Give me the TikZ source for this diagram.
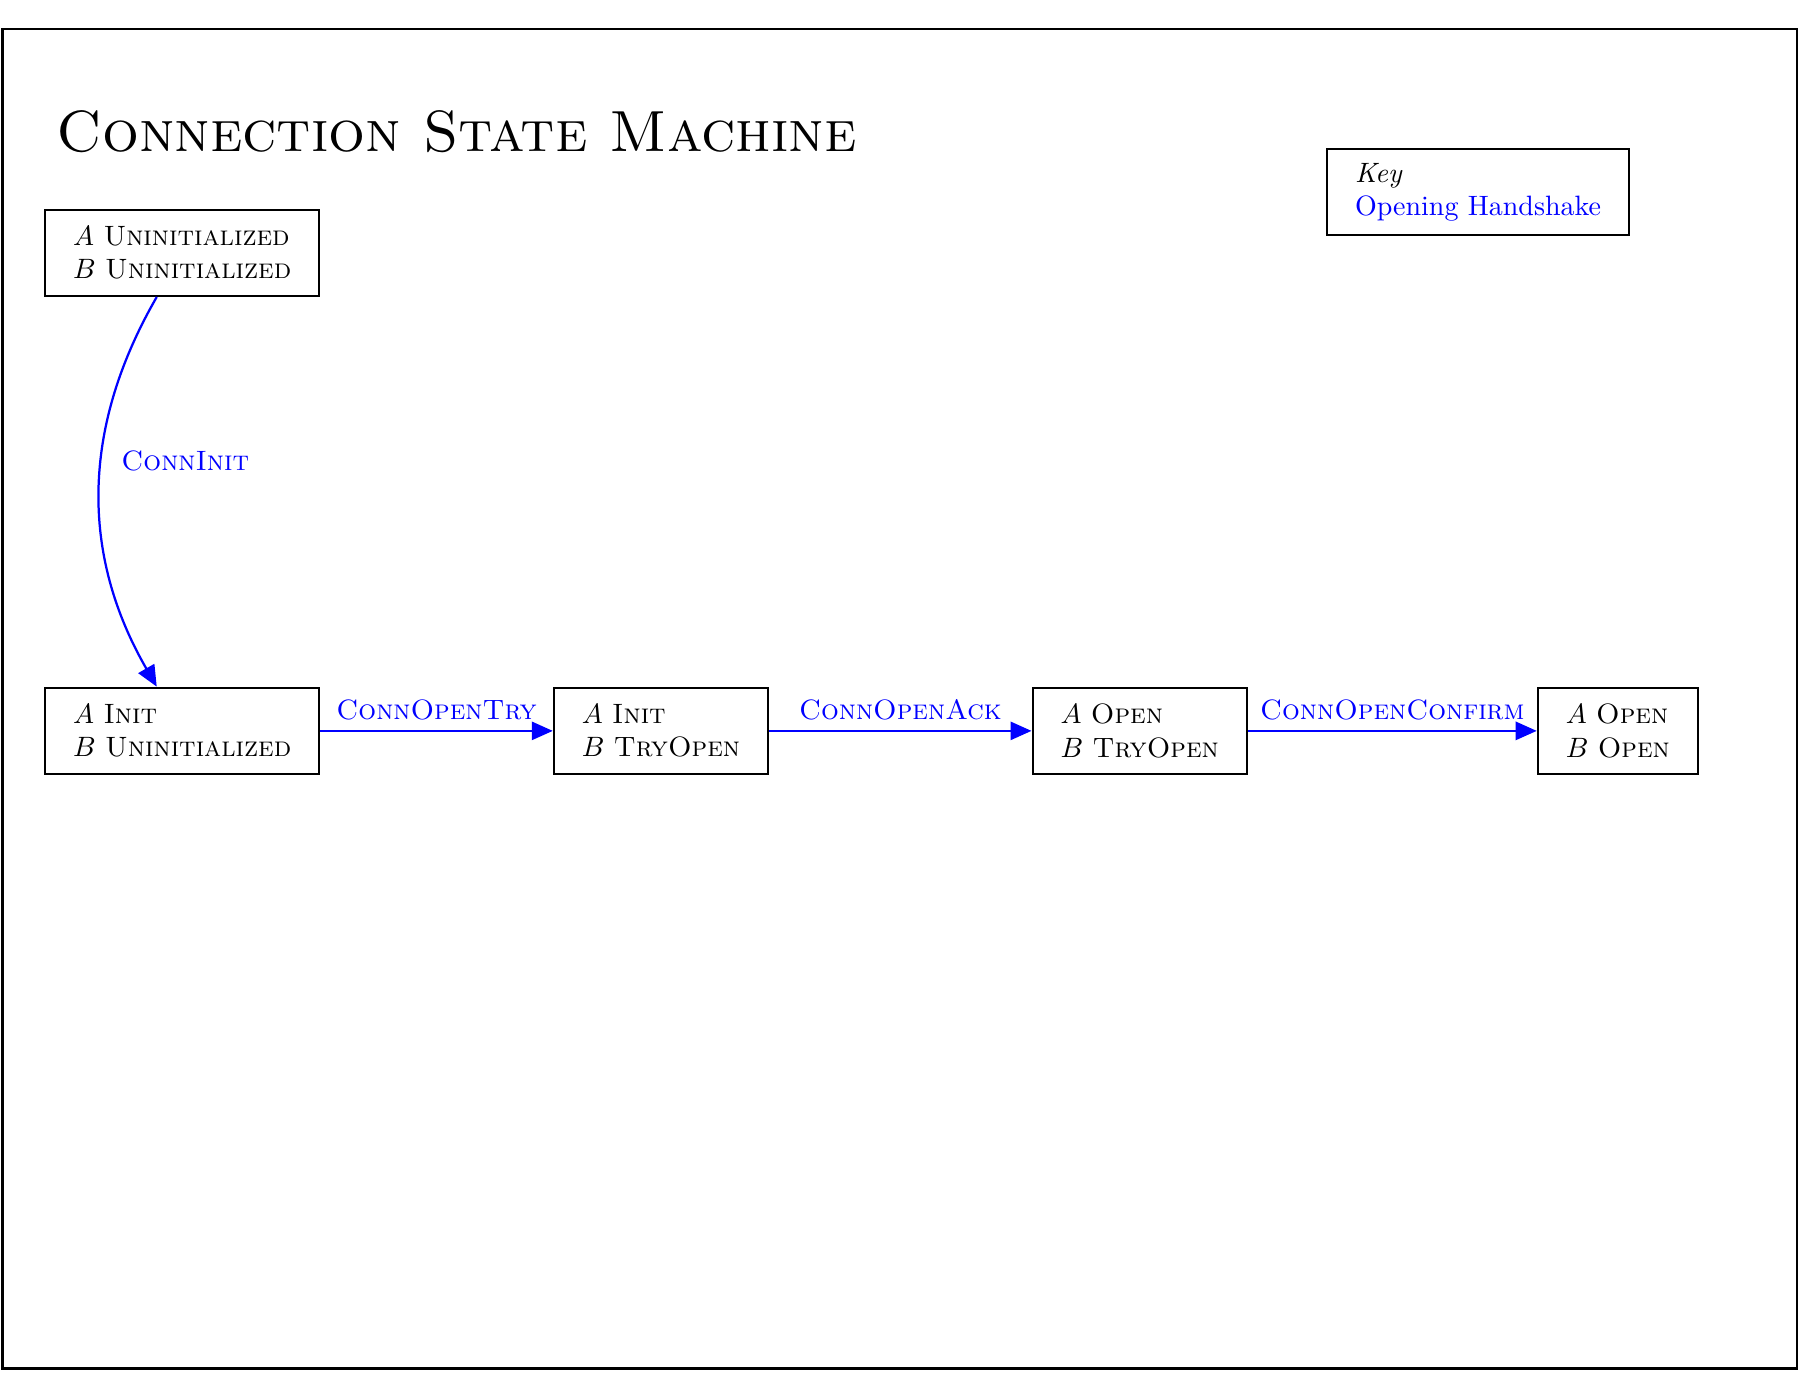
\documentclass[tikz,border=0pt]{standalone}
\usetikzlibrary{arrows.meta}
\begin{document}
\begin{tikzpicture}[x=0.416pt,y=-0.416pt,
  statebox/.style={draw, thick, align=left, inner xsep=10pt, minimum height=30.8pt},
  trans/.style={draw=blue, thick, -{Triangle[length=7.5pt,width=6.5pt]}},
  tlabel/.style={text=blue, font=\scshape}]
\useasboundingbox (0,0) rectangle (1548,1185.7);
\draw[line width=0.9pt] (2,25) rectangle (1543,1175);
\node[anchor=base west, font=\huge\scshape, inner sep=0pt] (title) at (48,130) {Connection State Machine};
\node[statebox] (uu) at (156.5,217) {$A$ \textsc{Uninitialized}\\ $B$ \textsc{Uninitialized}};
\node[statebox] (iu) at (156.5,627.5) {$A$ \textsc{Init}\\ $B$ \textsc{Uninitialized}};
\node[statebox] (it) at (567.5,627.5) {$A$ \textsc{Init}\\ $B$ \textsc{TryOpen}};
\node[statebox] (ot) at (978.5,627.5) {$A$ \textsc{Open}\\ $B$ \textsc{TryOpen}};
\node[statebox] (oo) at (1389,627.5) {$A$ \textsc{Open}\\ $B$ \textsc{Open}};
\node[statebox] (key) at (1269,165) {\textit{Key}\\ \textcolor{blue}{Opening Handshake}};
\draw[trans] (uu) to[bend right=30] node[pos=0.42, right, xshift=3.5pt, tlabel] {ConnInit} (iu);
\draw[trans] (iu) -- node[above, tlabel] {ConnOpenTry} (it);
\draw[trans] (it) -- node[above, tlabel] {ConnOpenAck} (ot);
\draw[trans] (ot) -- node[above, tlabel] {ConnOpenConfirm} (oo);
\end{tikzpicture}
\end{document}
